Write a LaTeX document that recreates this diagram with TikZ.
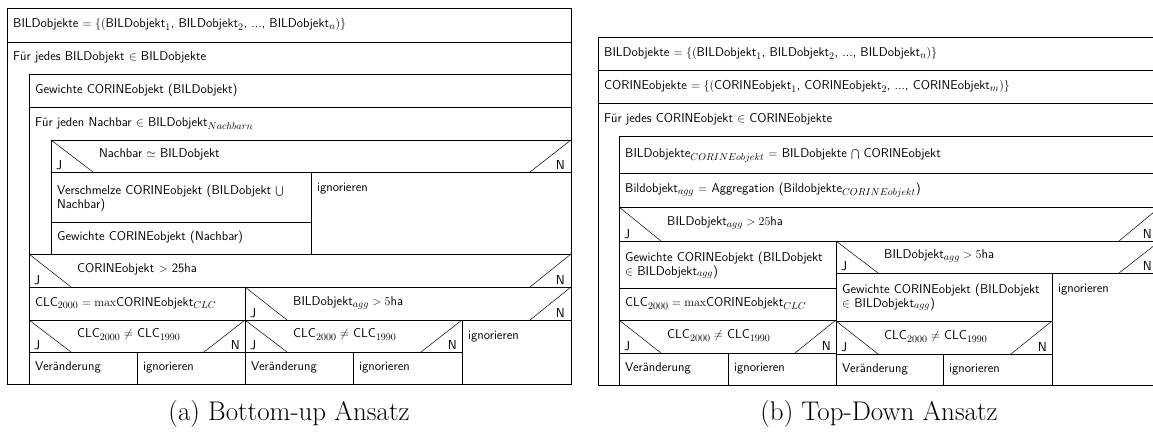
\documentclass[tikz,border=0pt]{standalone}
\DeclareMathSizes{12.8}{12.8}{10}{8}
\begin{document}
\begin{tikzpicture}[x=1pt, y=-1pt,
        every node/.style={inner sep=0pt, font=\fontsize{12.8}{13.8}\sffamily},
        box/.style={line width=0.9pt},
        diag/.style={line width=0.5pt},
        txt/.style={anchor=west, text height=8.5pt, text depth=3pt},
        par/.style={anchor=north west, align=left},
        cond/.style={anchor=west, text height=8.5pt, text depth=3pt},
        yes/.style={anchor=south west, font=\fontsize{13}{14}\sffamily},
        no/.style={anchor=south east, font=\fontsize{13}{14}\sffamily},
        capt/.style={font=\fontsize{27}{30}\rmfamily}
    ]
    \useasboundingbox (0,0) rectangle (1153,434);

    % (a) bottom-up
    \draw[box] (7,8) rectangle (571,384);
    \draw[box] (7,42) -- (571,42);
    \draw[box] (29,384) -- (29,74) -- (571,74);
    \draw[box] (29,107) -- (571,107);
    \draw[box] (51,254) -- (51,140) -- (571,140);
    \draw[box] (51,172) -- (571,172);
    \draw[box] (311,172) -- (311,254);
    \draw[box] (51,222) -- (311,222);
    \draw[box] (29,254) -- (571,254);
    \draw[diag] (51,140) -- (93,172) (571,140) -- (530,172);
    \draw[diag] (29,254) -- (71,287) (571,254) -- (530,287);
    \draw[box] (29,287) -- (571,287);
    \draw[box] (245,287) -- (245,384);
    \draw[box] (29,320) -- (571,320);
    \draw[diag] (29,320) -- (71,352) (245,320) -- (204,352);
    \draw[box] (29,352) -- (462,352);
    \draw[box] (137,352) -- (137,384);
    \draw[diag] (245,287) -- (287,320) (571,287) -- (530,320);
    \draw[box] (462,320) -- (462,384);
    \draw[diag] (245,320) -- (287,352) (462,320) -- (421,352);
    \draw[box] (353,352) -- (353,384);

    \node[txt] (lset) at (13,25) {BILDobjekte $=\{($BILDobjekt$_1$, BILDobjekt$_2$, ..., BILDobjekt$_n$$)\}$};
    \node[txt] (lloop) at (13,58) {Für jedes BILDobjekt $\in$ BILDobjekte};
    \node[txt] (lgew) at (35,90.5) {Gewichte CORINEobjekt (BILDobjekt)};
    \node[txt] (lnb) at (35,123.5) {Für jeden Nachbar $\in$ BILDobjekt$_{Nachbarn}$};
    \node[cond] (lifnb) at (99,155) {Nachbar $\simeq$ BILDobjekt};
    \node[yes] (lifnbj) at (56,170) {J};
    \node[no] (lifnbn) at (565,170) {N};
    \node[par] (lmerge) at (57,185) {Verschmelze CORINEobjekt (BILDobjekt $\bigcup$\\Nachbar)};
    \node[txt] (lign1) at (317,189) {ignorieren};
    \node[txt] (lgewnb) at (57,238) {Gewichte CORINEobjekt (Nachbar)};
    \node[cond] (lif25) at (77,270) {CORINEobjekt $>$ 25ha};
    \node[yes] (lif25j) at (34,285) {J};
    \node[no] (lif25n) at (565,285) {N};
    \node[txt] (lmax) at (35,303.5) {CLC$_{2000} = \max$CORINEobjekt$_{CLC}$};
    \node[cond] (lifclc) at (77,335) {CLC$_{2000} \neq$ CLC$_{1990}$};
    \node[yes] (lifclcj) at (34,350) {J};
    \node[no] (lifclcn) at (240,350) {N};
    \node[txt] (lchg) at (35,368) {Veränderung};
    \node[txt] (lign2) at (143,368) {ignorieren};
    \node[cond] (lif5) at (293,303) {BILDobjekt$_{agg} > 5$ha};
    \node[yes] (lif5j) at (250,318) {J};
    \node[no] (lif5n) at (565,318) {N};
    \node[cond] (lifclc2) at (293,335) {CLC$_{2000} \neq$ CLC$_{1990}$};
    \node[yes] (lifclc2j) at (250,350) {J};
    \node[no] (lifclc2n) at (457,350) {N};
    \node[txt] (lchg2) at (251,368) {Veränderung};
    \node[txt] (lign3) at (359,368) {ignorieren};
    \node[txt] (lign4) at (468,337) {ignorieren};

    % (b) top-down
    \draw[box] (598,37) rectangle (1160,385);
    \draw[box] (598,70.7) -- (1160,70.7);
    \draw[box] (598,103.5) -- (1160,103.5);
    \draw[box] (619,385) -- (619,136.7) -- (1160,136.7);
    \draw[box] (619,173) -- (1160,173);
    \draw[box] (619,207) -- (1160,207);
    \draw[diag] (619,207) -- (661,241) (1160,207) -- (1119,241);
    \draw[box] (619,241) -- (1160,241);
    \draw[box] (836,241) -- (836,385);
    \draw[box] (619,288) -- (836,288);
    \draw[box] (619,320) -- (836,320);
    \draw[diag] (619,320) -- (661,353) (836,320) -- (795,353);
    \draw[box] (619,353) -- (836,353);
    \draw[box] (728,353) -- (728,385);
    \draw[diag] (836,241) -- (878,273) (1160,241) -- (1119,273);
    \draw[box] (836,273) -- (1160,273);
    \draw[box] (1052,273) -- (1052,385);
    \draw[box] (836,321) -- (1052,321);
    \draw[diag] (836,321) -- (878,354) (1052,321) -- (1011,354);
    \draw[box] (836,354) -- (1052,354);
    \draw[box] (943,354) -- (943,385);

    \node[txt] (rset1) at (604,54) {BILDobjekte $=\{($BILDobjekt$_1$, BILDobjekt$_2$, ..., BILDobjekt$_n$$)\}$};
    \node[txt] (rset2) at (604,87) {CORINEobjekte $=\{($CORINEobjekt$_1$, CORINEobjekt$_2$, ..., CORINEobjekt$_m$$)\}$};
    \node[txt] (rloop) at (604,120) {Für jedes CORINEobjekt $\in$ CORINEobjekte};
    \node[txt] (rsub) at (625,155) {BILDobjekte$_{CORINEobjekt}$ $=$ BILDobjekte $\bigcap$ CORINEobjekt};
    \node[txt] (ragg) at (625,190) {Bildobjekt$_{agg}$ $=$ Aggregation (Bildobjekte$_{CORINEobjekt}$)};
    \node[cond] (rif25) at (667,222.5) {BILDobjekt$_{agg} > 25$ha};
    \node[yes] (rif25j) at (624,239) {J};
    \node[no] (rif25n) at (1152,239) {N};
    \node[par] (rgew) at (625,251.5) {Gewichte CORINEobjekt (BILDobjekt\\$\in$ BILDobjekt$_{agg}$)};
    \node[txt] (rmax) at (625,304) {CLC$_{2000} = \max$CORINEobjekt$_{CLC}$};
    \node[cond] (rifclc) at (667,336) {CLC$_{2000} \neq$ CLC$_{1990}$};
    \node[yes] (rifclcj) at (624,351) {J};
    \node[no] (rifclcn) at (831,351) {N};
    \node[txt] (rchg) at (625,369) {Veränderung};
    \node[txt] (rign1) at (734,369) {ignorieren};
    \node[cond] (rif5) at (884,256) {BILDobjekt$_{agg} > 5$ha};
    \node[yes] (rif5j) at (841,271) {J};
    \node[no] (rif5n) at (1152,271) {N};
    \node[par] (rgew2) at (842,283.5) {Gewichte CORINEobjekt (BILDobjekt\\$\in$ BILDobjekt$_{agg}$)};
    \node[txt] (rign2) at (1058,290) {ignorieren};
    \node[cond] (rifclc2) at (884,337) {CLC$_{2000} \neq$ CLC$_{1990}$};
    \node[yes] (rifclc2j) at (841,352) {J};
    \node[no] (rifclc2n) at (1047,352) {N};
    \node[txt] (rchg2) at (842,370) {Veränderung};
    \node[txt] (rign3) at (949,370) {ignorieren};

    \node[capt] (capa) at (289,414) {(a) Bottom-up Ansatz};
    \node[capt] (capb) at (879,414) {(b) Top-Down Ansatz};
\end{tikzpicture}
\end{document}
